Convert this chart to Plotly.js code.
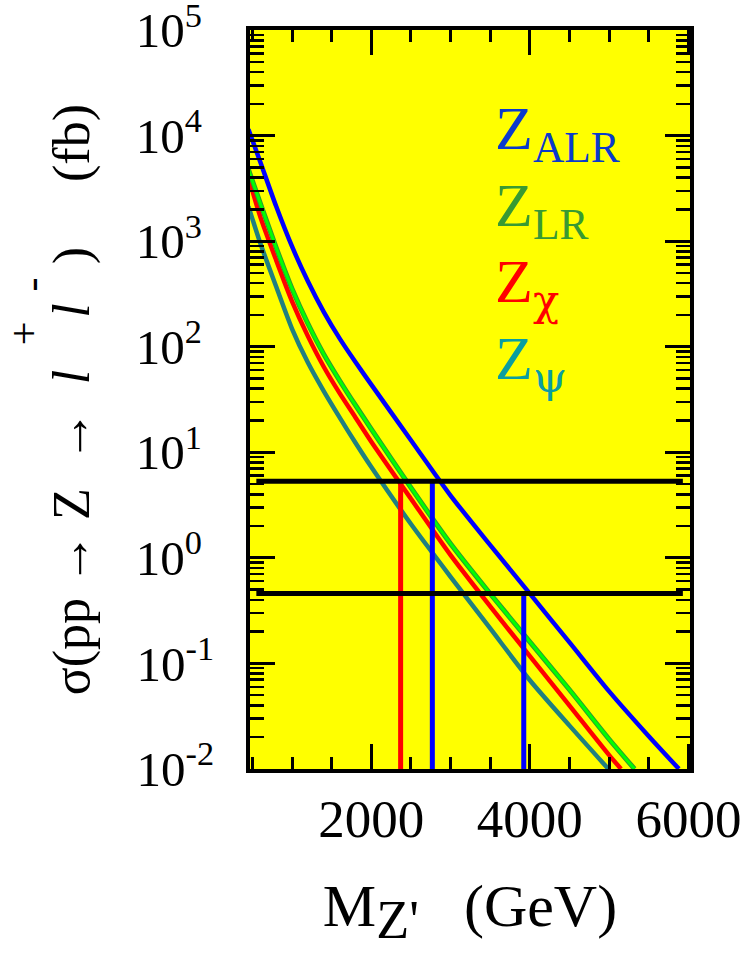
<!DOCTYPE html>
<html>
<head>
<meta charset="utf-8">
<script src="https://cdn.plot.ly/plotly-3.0.1.min.js"></script>
<style>
  html, body { margin: 0; padding: 0; background: #ffffff; }
  #chart { width: 745px; height: 968px; }
</style>
</head>
<body>
<div id="chart"></div>
<script>
// ---------- data ----------
// Z_ALR (blue)
const massALR  = [450, 600, 800, 1000, 1200, 1400, 1600, 1800, 2000, 2500, 3000, 3500, 4000, 4500, 5000, 5500, 5880];
const sigmaALR = [11500, 5620, 2140, 891, 417, 214, 120, 71.6, 43.7, 13.0, 3.89, 1.32, 0.457, 0.158, 0.0543, 0.0204, 0.0100];
// Z_LR (green)
const massLR  = [450, 600, 800, 1000, 1200, 1400, 1600, 1800, 2000, 2500, 3000, 3500, 4000, 4500, 5000, 5320];
const sigmaLR = [4790, 2290, 871, 355, 166, 85.1, 47.9, 27.9, 16.6, 4.62, 1.36, 0.457, 0.160, 0.0562, 0.0191, 0.0100];
// Z_chi (red)
const massChi  = [450, 600, 800, 1000, 1200, 1400, 1600, 1800, 2000, 2500, 3000, 3500, 4000, 4500, 5000, 5150];
const sigmaChi = [4070, 1700, 661, 269, 126, 64.6, 36.3, 21.4, 12.6, 3.63, 1.06, 0.347, 0.117, 0.0398, 0.0135, 0.0100];
// Z_psi (teal)
const massPsi  = [450, 600, 800, 1000, 1200, 1400, 1600, 1800, 2000, 2500, 3000, 3500, 4000, 4500, 4990];
const sigmaPsi = [2140, 955, 372, 148, 70.8, 38.0, 21.4, 12.3, 7.24, 2.09, 0.661, 0.214, 0.0692, 0.0257, 0.0100];

// discovery-level lines (fb) and their mass span
const limitLevels = [5.3, 0.46];
const limitMassSpan = [550, 5930];
// reach markers: mass (GeV), level (fb), colour
const reachMass  = [2370, 2770, 3923];
const reachLevel = [5.3, 5.3, 0.46];
const reachColor = ['#ff0000', '#0000ff', '#0000ff'];

// axis ticks
const xTickVals = [2000, 4000, 6000];
const xTickText = ['2000', '4000', '6000'];
const yExponents = [-2, -1, 0, 1, 2, 3, 4, 5];

// legend labels
const legendLabels = [
  'Z<sub>ALR</sub>',
  'Z<sub>LR</sub>',
  'Z<sub><span style="font-family:\'DejaVu Serif\'">χ</span></sub>',
  'Z<sub><span style="font-family:\'DejaVu Serif\'">ψ</span></sub>'
];

// ---------- styling ----------
const colALR = '#0000ff', colLR = '#00ff00', colLRedge = '#2f9a2f', colChi = '#ff0000', colPsi = '#208080';
const legendColors = ['#0a3acc', '#389a32', '#ff0000', '#0a9ea0'];
const serif = 'Liberation Serif, Times New Roman, serif';
const xRange = [470, 6020];
const yRange = [-2.001, 5.001];
const yMin = 0.01;
const nb = '\u00a0';

const yTickVals = yExponents.map(e => Math.pow(10, e));
const yTickText = yExponents.map(e => '10<sup>' + e + '</sup>' + (e >= 0 ? nb : ''));

function curve(x, y, c, w) {
  return { x: x, y: y, type: 'scatter', mode: 'lines', xaxis: 'x', yaxis: 'y',
           line: { color: c, width: w, shape: 'spline', smoothing: 0.7 },
           hoverinfo: 'skip', showlegend: false };
}

const traces = [
  curve(massPsi, sigmaPsi, colPsi, 4.5),
  curve(massChi, sigmaChi, colChi, 4.5),
  curve(massLR, sigmaLR, colLRedge, 5),
  curve(massLR, sigmaLR, colLR, 3),
  curve(massALR, sigmaALR, colALR, 4.5)
];

// vertical reach markers
reachMass.forEach((m, i) => {
  traces.push({ x: [m, m], y: [reachLevel[i], yMin], type: 'scatter', mode: 'lines',
                xaxis: 'x2', yaxis: 'y2', line: { color: reachColor[i], width: 5 },
                hoverinfo: 'skip', showlegend: false });
});
// horizontal limit lines
limitLevels.forEach(v => {
  traces.push({ x: limitMassSpan, y: [v, v], type: 'scatter', mode: 'lines',
                xaxis: 'x2', yaxis: 'y2', line: { color: '#000000', width: 5 },
                hoverinfo: 'skip', showlegend: false });
});

const minorX = { dtick: 500, tick0: 0, ticks: 'inside', ticklen: 12, tickwidth: 3, tickcolor: '#000', showgrid: false };
const minorY = { dtick: 'D1', ticks: 'inside', ticklen: 14, tickwidth: 2.5, tickcolor: '#000', showgrid: false };

const legendY = [0.861, 0.757, 0.653, 0.550];
const annotations = legendLabels.map((t, i) => ({
  xref: 'paper', yref: 'paper', x: 0.553, y: legendY[i], xanchor: 'left', yanchor: 'middle',
  text: t, showarrow: false, font: { family: serif, size: 62, color: legendColors[i] }
}));

// y-axis title (rotated), with its raised charge signs
const yTitle = 'σ(pp' + nb + '→' + nb + 'Z' + nb + nb + '→' + nb + nb + '<i>l</i>' + nb.repeat(4) +
               '<i>l</i>' + nb.repeat(3) + ')' + nb.repeat(5) + '(fb)';
annotations.push({ xref: 'paper', yref: 'paper', x: -0.405, y: 0.5, xanchor: 'center', yanchor: 'middle',
  text: yTitle, showarrow: false, textangle: -90, font: { family: serif, size: 52, color: '#000' } });
annotations.push({ xref: 'paper', yref: 'paper', x: -0.513, y: 0.590, xanchor: 'center', yanchor: 'middle',
  text: '+', showarrow: false, textangle: -90, font: { family: serif, size: 42, color: '#000' } });
annotations.push({ xref: 'paper', yref: 'paper', x: -0.497, y: 0.656, xanchor: 'center', yanchor: 'middle',
  text: '-', showarrow: false, textangle: -90, font: { family: serif, size: 42, color: '#000' } });

const layout = {
  width: 745, height: 968,
  margin: { l: 250, r: 55, t: 30, b: 199 },
  paper_bgcolor: '#ffffff', plot_bgcolor: '#ffff00',
  font: { family: serif, color: '#000' },
  showlegend: false,
  xaxis: {
    type: 'linear', range: xRange, tickmode: 'array', tickvals: xTickVals, ticktext: xTickText,
    ticks: 'inside', ticklen: 25, tickwidth: 3, tickcolor: '#000', minor: minorX,
    showline: true, linewidth: 4, linecolor: '#000', mirror: true,
    showgrid: false, zeroline: false, tickfont: { family: serif, size: 53, color: '#000' },
    ticklabelstandoff: 0, ticklabeloverflow: 'allow',
    title: { text: 'M<sub><span style="font-size:54px">Z\'</span></sub>' + nb.repeat(3) + '(GeV)', font: { family: serif, size: 60, color: '#000' }, standoff: 38 }
  },
  yaxis: {
    type: 'log', range: yRange, tickmode: 'array', tickvals: yTickVals, ticktext: yTickText,
    ticks: 'inside', ticklen: 25, tickwidth: 3, tickcolor: '#000', minor: minorY,
    showline: true, linewidth: 4, linecolor: '#000', mirror: true,
    showgrid: false, zeroline: false, tickfont: { family: serif, size: 49, color: '#000' },
    ticklabelstandoff: 22, ticklabeloverflow: 'allow'
  },
  xaxis2: {
    type: 'linear', range: xRange, overlaying: 'x', side: 'top', anchor: 'y',
    tickmode: 'array', tickvals: xTickVals, showticklabels: false,
    ticks: 'inside', ticklen: 25, tickwidth: 3, tickcolor: '#000', minor: minorX,
    showline: false, showgrid: false, zeroline: false
  },
  yaxis2: {
    type: 'log', range: yRange, overlaying: 'y', side: 'right', anchor: 'x',
    tickmode: 'array', tickvals: yTickVals, showticklabels: false,
    ticks: 'inside', ticklen: 25, tickwidth: 3, tickcolor: '#000', minor: minorY,
    showline: false, showgrid: false, zeroline: false
  },
  annotations: annotations
};

Plotly.newPlot('chart', traces, layout, { staticPlot: true, displayModeBar: false });
</script>
</body>
</html>
